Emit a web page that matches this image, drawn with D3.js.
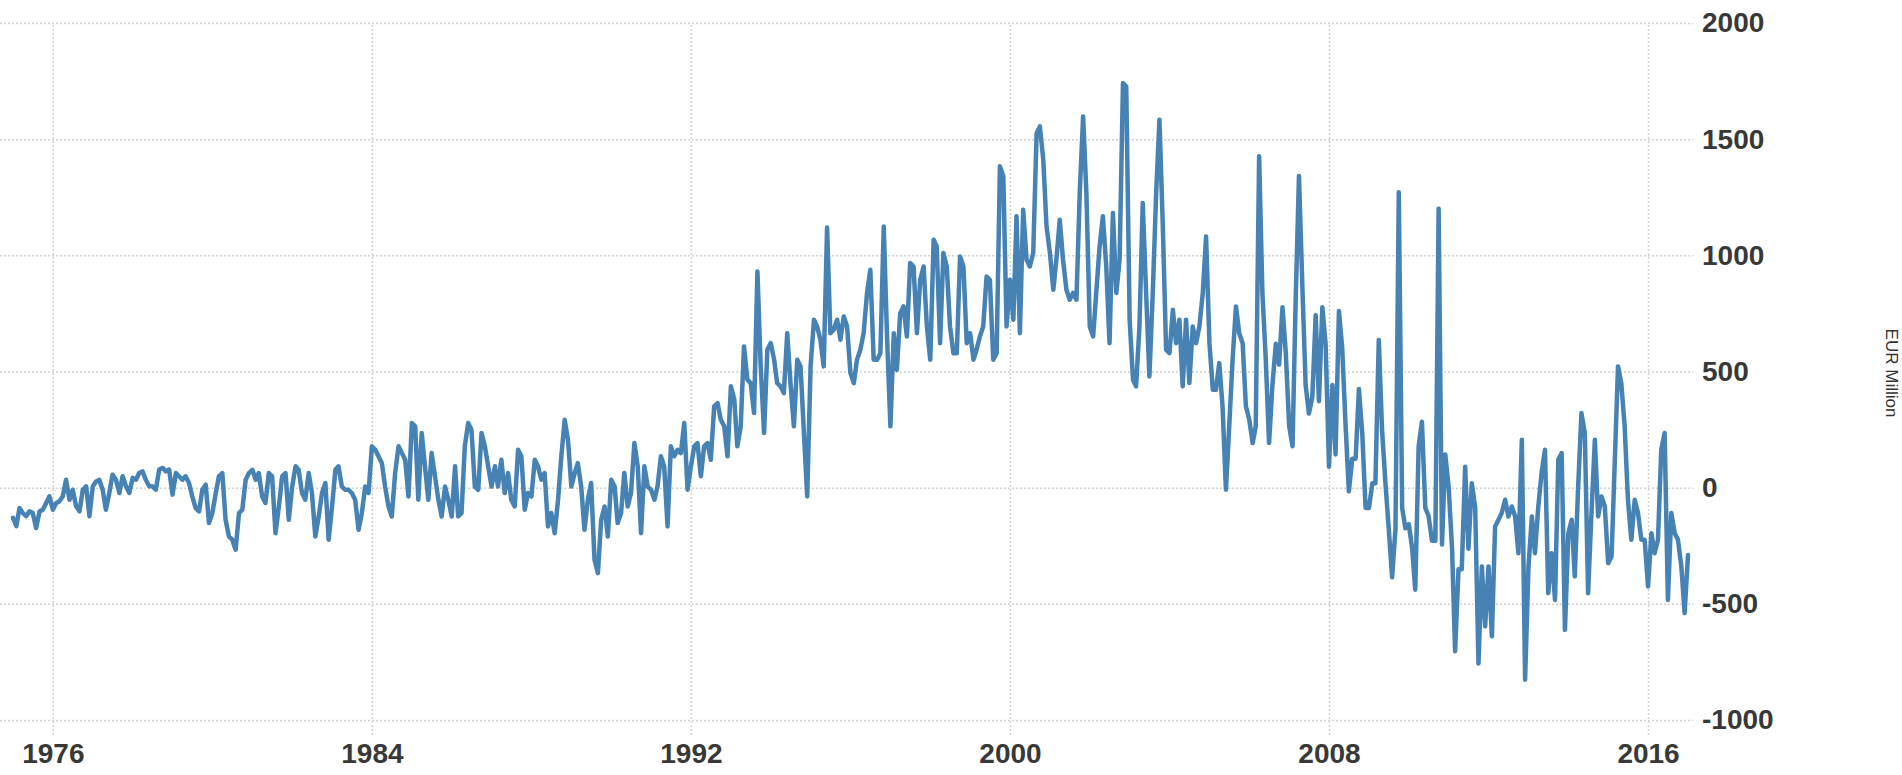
<!DOCTYPE html>
<html>
<head>
<meta charset="utf-8">
<script src="https://cdn.jsdelivr.net/npm/d3@7"></script>
<style>
  body { margin: 0; background: #fff; }
  svg { display: block; }
  .axis text { font-family: "Liberation Sans", Arial, sans-serif; font-weight: bold; font-size: 28px; fill: #383838; }
  .axis .domain { display: none; }
  .axis line { stroke: #d2d2d2; stroke-width: 1.5; stroke-dasharray: 2,2; }
</style>
</head>
<body>
<svg id="chart" width="1902" height="775"></svg>
<script>
// monthly values, EUR million, first one is January 1975
const startYear = 1975;
const values1970s = [
  -130, -166, -88, -109, -123, -102, -109, -174, -102, -95, -66, -37,
  -95, -66, -59, -37, 34, -52, -9, -80, -102, -9, 6, -123,
  6, 27, 34, -9, -95, -23, 56, 34, -23, 49, 6, -23,
  42, 34, 63, 70, 34, 6, 6, -9, 78, 85, 70, 78,
  -30, 63, 49, 34, 49, 20, -37, -88, -102, -9, 13, -152
];
const values1980s = [
  -109, -23, 49, 63, -138, -210, -224, -267, -109, -95, 34, 63,
  77, 34, 63, -38, -66, 63, 49, -196, -81, 49, 63, -138,
  5, 92, 77, -23, -52, 63, -23, -210, -124, -23, 20, -224,
  -81, 77, 92, 5, -9, -9, -23, -52, -181, -109, 5, -23,
  178, 163, 135, 106, 5, -81, -124, 63, 178, 149, 120, -38,
  278, 264, -52, 235, 92, -52, 149, 49, -52, -124, 5, -52,
  -124, 92, -124, -109, 178, 278, 249, 5, -9, 235, 178, 92,
  5, 92, 5, 120, -23, 63, -52, -81, 163, 135, -95, -23,
  -38, 120, 92, 34, 63, -167, -109, -196, -52, 135, 292, 206,
  5, 63, 106, 5, -181, -52, 20, -310, -368, -138, -81, -210
];
const values1990s = [
  34, 5, -152, -109, 63, -81, -23, 192, 92, -196, 92, 5,
  -9, -52, 5, 135, 92, -167, 178, 135, 163, 149, 278, -9,
  92, 178, 192, 49, 178, 192, 120, 350, 364, 292, 264, 135,
  436, 379, 178, 264, 608, 465, 450, 321, 930, 522, 235, 594,
  622, 551, 450, 436, 407, 665, 450, 264, 551, 522, 235, -38,
  522, 723, 694, 637, 522, 1120, 665, 680, 723, 637, 737, 694,
  493, 450, 551, 594, 665, 838, 938, 551, 551, 579, 1124, 651,
  264, 665, 507, 751, 780, 651, 967, 952, 665, 895, 952, 694,
  551, 1067, 1038, 622, 1010, 952, 694, 579, 579, 995, 952, 622,
  665, 551, 594, 651, 694, 909, 895, 551, 579, 1383, 1340, 694
];
const values2000s = [
  895, 723, 1168, 665, 1196, 981, 952, 1010, 1526, 1555, 1412, 1124,
  1010, 852, 981, 1153, 981, 852, 809, 838, 809, 1268, 1598, 1268,
  694, 651, 838, 1038, 1168, 952, 622, 1182, 838, 981, 1742, 1727,
  723, 464, 436, 694, 1225, 838, 479, 838, 1268, 1584, 1124, 594,
  579, 766, 622, 723, 436, 723, 450, 694, 622, 694, 838, 1081,
  622, 421, 421, 536, 350, -9, 264, 551, 780, 665, 622, 350,
  292, 192, 264, 1426, 838, 551, 192, 442, 619, 530, 777, 583,
  266, 178, 795, 1341, 883, 442, 319, 389, 742, 372, 777, 619,
  90, 442, 143, 760, 601, 266, -16, 125, 125, 425, 231, -87,
  -87, 19, 19, 636, 248, 19, -175, -386, -175, 1271, -87, -175
];
const values2010s = [
  -157, -263, -439, 178, 284, -87, -122, -228, -228, 1200, -245, 143,
  1, -263, -704, -351, -351, 90, -263, 19, -87, -757, -339, -597,
  -339, -640, -167, -138, -109, -52, -124, -81, -124, -282, 206, -827,
  -339, -124, -282, -81, 63, 163, -454, -282, -483, 120, 149, -612,
  -196, -138, -382, 5, 321, 235, -454, -109, 206, -124, -38, -81,
  -325, -296, 92, 522, 450, 264, -52, -224, -52, -109, -224, -224,
  -425, -196, -282, -224, 163, 235, -483, -109, -196, -224, -339, -540,
  -290
];
const yearTicks = [1976, 1984, 1992, 2000, 2008, 2016];
const valueTicks = [-1000, -500, 0, 500, 1000, 1500, 2000];
const unitLabel = "EUR Million";

const values = [].concat(values1970s, values1980s, values1990s, values2000s, values2010s);
const series = values.map((v, i) => ({ date: new Date(startYear, i, 1), value: v }));

const svg = d3.select("#chart");

const x = d3.scaleTime()
    .domain([new Date(1975, 0, 1), new Date(2017, 0, 1)])
    .range([13, 1688]);
const y = d3.scaleLinear()
    .domain([-1000, 2000])
    .range([720, 23]);

// horizontal gridlines + labels on the right (plain hyphen for negatives)
svg.append("g")
    .attr("class", "axis y-axis")
    .call(d3.axisRight(y).tickValues(valueTicks).tickSize(1693).tickPadding(9).tickFormat(d => String(d)));

// vertical gridlines + year labels
svg.append("g")
    .attr("class", "axis x-axis")
    .attr("transform", "translate(0,735)")
    .call(d3.axisBottom(x)
        .tickValues(yearTicks.map(yr => new Date(yr, 0, 1)))
        .tickSize(-712)
        .tickPadding(8)
        .tickFormat(d3.timeFormat("%Y")));

// the series
const line = d3.line()
    .x(d => x(d.date))
    .y(d => y(d.value));

svg.append("path")
    .datum(series)
    .attr("fill", "none")
    .attr("stroke", "#4682b4")
    .attr("stroke-width", 4.5)
    .attr("stroke-linejoin", "round")
    .attr("stroke-linecap", "round")
    .attr("d", line);

// unit label
svg.append("text")
    .attr("transform", "translate(1886,373) rotate(90)")
    .attr("text-anchor", "middle")
    .style("font-family", "'Liberation Sans', Arial, sans-serif")
    .style("font-size", "17px")
    .style("fill", "#333")
    .text(unitLabel);
</script>
</body>
</html>
